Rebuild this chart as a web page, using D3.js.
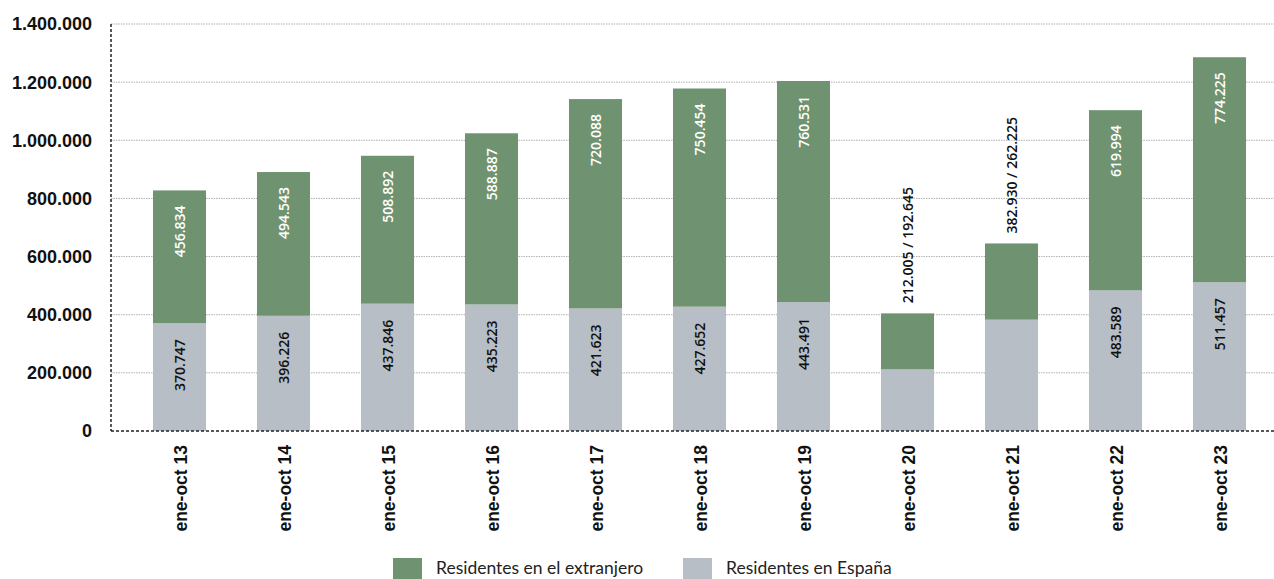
<!DOCTYPE html>
<html>
<head>
<meta charset="utf-8">
<script src="https://cdn.jsdelivr.net/npm/d3@7"></script>
<style>
  body { margin: 0; background: #fff; }
</style>
</head>
<body>
<script>
const categories = ["ene-oct 13", "ene-oct 14", "ene-oct 15", "ene-oct 16", "ene-oct 17", "ene-oct 18",
  "ene-oct 19", "ene-oct 20", "ene-oct 21", "ene-oct 22", "ene-oct 23"];
const residentesEspana = [370747, 396226, 437846, 435223, 421623, 427652, 443491, 212005, 382930, 483589, 511457];
const residentesExtranjero = [456834, 494543, 508892, 588887, 720088, 750454, 760531, 192645, 262225, 619994, 774225];
const yTicks = [0, 200000, 400000, 600000, 800000, 1000000, 1200000, 1400000];
const seriesNames = ["Residentes en el extranjero", "Residentes en España"];

const width = 1274;
const height = 579;
const green = "#6f9370";
const grey = "#b7bec5";

const locale = d3.formatLocale({ decimal: ",", thousands: ".", grouping: [3], currency: ["", "€"] });
const fmt = locale.format(",");

const svg = d3.select("body")
  .append("svg")
  .attr("width", width)
  .attr("height", height);

const x = d3.scaleBand()
  .domain(categories)
  .range([127.5, 1271.5])
  .paddingInner(0.49)
  .paddingOuter(0.245);

const y = d3.scaleLinear()
  .domain([0, 1400000])
  .range([431, 24]);

const axisLeft = 111;
const axisRight = 1274;

// gridlines
svg.selectAll(".grid")
  .data(yTicks.filter(d => d > 0))
  .enter()
  .append("line")
  .attr("x1", axisLeft)
  .attr("x2", axisRight)
  .attr("y1", d => y(d))
  .attr("y2", d => y(d))
  .attr("stroke", "#b0b0b0")
  .attr("stroke-width", 1)
  .attr("stroke-dasharray", "1.5,1");

// y labels
svg.selectAll(".ylab")
  .data(yTicks)
  .enter()
  .append("text")
  .attr("x", 92)
  .attr("y", d => y(d))
  .attr("dy", "0.36em")
  .attr("text-anchor", "end")
  .style("font-family", "Liberation Sans, Arial, sans-serif")
  .style("font-weight", "bold")
  .style("font-size", "18px")
  .attr("fill", "#111")
  .text(d => fmt(d));

const rows = categories.map((c, i) => ({
  cat: c,
  es: residentesEspana[i],
  ex: residentesExtranjero[i]
}));

// bars
const g = svg.selectAll(".bar")
  .data(rows)
  .enter()
  .append("g");

g.append("rect")
  .attr("x", d => x(d.cat))
  .attr("width", x.bandwidth())
  .attr("y", d => y(d.es))
  .attr("height", d => y(0) - y(d.es))
  .attr("fill", grey);

g.append("rect")
  .attr("x", d => x(d.cat))
  .attr("width", x.bandwidth())
  .attr("y", d => y(d.es + d.ex))
  .attr("height", d => y(d.es) - y(d.es + d.ex))
  .attr("fill", green);

const labelFont = "Open Sans, sans-serif";
const small = d => y(d.es) - y(d.es + d.ex) < 80;

// labels inside segments
g.filter(d => !small(d)).append("text")
  .attr("transform", d => `translate(${x(d.cat) + x.bandwidth() / 2},${y(d.es + d.ex) + 15}) rotate(-90)`)
  .attr("dy", "0.36em")
  .attr("text-anchor", "end")
  .style("font-family", labelFont)
  .style("font-weight", 600)
  .style("font-size", "14px")
  .attr("fill", "#fff")
  .text(d => fmt(d.ex));

g.filter(d => !small(d)).append("text")
  .attr("transform", d => `translate(${x(d.cat) + x.bandwidth() / 2},${y(d.es) + 16}) rotate(-90)`)
  .attr("dy", "0.36em")
  .attr("text-anchor", "end")
  .style("font-family", labelFont)
  .style("font-weight", 600)
  .style("font-size", "14px")
  .attr("fill", "#111")
  .text(d => fmt(d.es));

// combined labels above short bars
g.filter(d => small(d)).append("text")
  .attr("transform", d => `translate(${x(d.cat) + x.bandwidth() / 2},${y(d.es + d.ex) - 10}) rotate(-90)`)
  .attr("dy", "0.36em")
  .attr("text-anchor", "start")
  .style("font-family", labelFont)
  .style("font-weight", 600)
  .style("font-size", "14px")
  .attr("fill", "#111")
  .text(d => fmt(d.es) + " / " + fmt(d.ex));

// axis lines
svg.append("line")
  .attr("x1", axisLeft).attr("x2", axisLeft)
  .attr("y1", y(1400000)).attr("y2", y(0))
  .attr("stroke", "#222").attr("stroke-width", 1.5)
  .attr("stroke-dasharray", "3,2");

svg.append("line")
  .attr("x1", axisLeft).attr("x2", axisRight)
  .attr("y1", y(0)).attr("y2", y(0))
  .attr("stroke", "#222").attr("stroke-width", 1.5)
  .attr("stroke-dasharray", "3,2");

// x labels
svg.selectAll(".xlab")
  .data(categories)
  .enter()
  .append("text")
  .attr("transform", d => `translate(${x(d) + x.bandwidth() / 2 + 1},${y(0) + 14}) rotate(-90)`)
  .attr("dy", "0.36em")
  .attr("text-anchor", "end")
  .style("font-family", "Liberation Sans, Arial, sans-serif")
  .style("font-weight", "bold")
  .style("font-size", "17.5px")
  .attr("fill", "#111")
  .text(d => d);

// legend
const legendItems = [
  { name: seriesNames[0], color: green, x: 393 },
  { name: seriesNames[1], color: grey, x: 683 }
];
const lg = svg.selectAll(".legend")
  .data(legendItems)
  .enter()
  .append("g");

lg.append("rect")
  .attr("x", d => d.x)
  .attr("y", 558)
  .attr("width", 29)
  .attr("height", 21)
  .attr("fill", d => d.color);

lg.append("text")
  .attr("x", d => d.x + 43)
  .attr("y", 568)
  .attr("dy", "0.36em")
  .style("font-family", "Lato, sans-serif")
  .style("font-weight", 400)
  .style("font-size", "17.5px")
  .attr("fill", "#222")
  .text(d => d.name);
</script>
</body>
</html>
